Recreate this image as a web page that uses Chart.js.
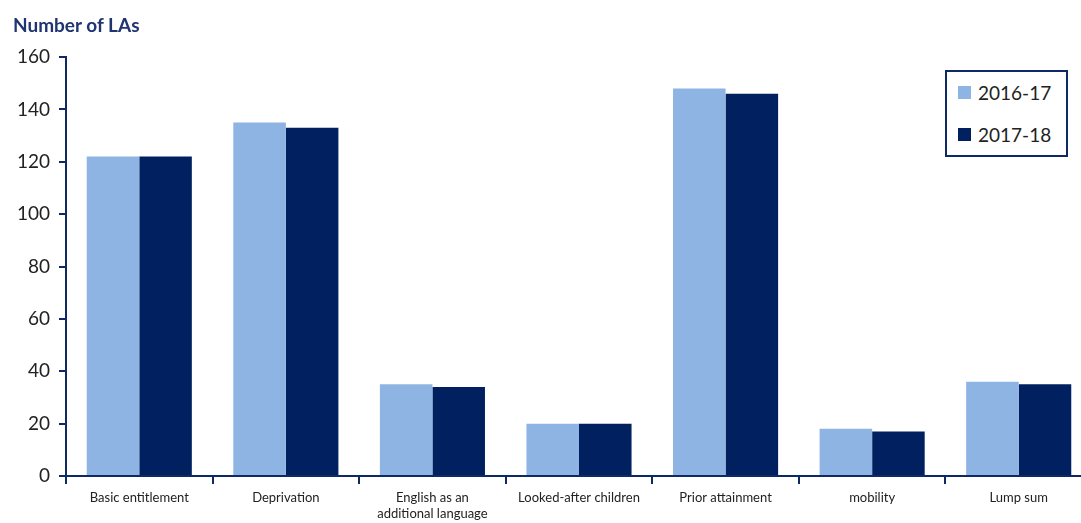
<!DOCTYPE html>
<html>
<head>
<meta charset="utf-8">
<script src="https://cdn.jsdelivr.net/npm/chart.js@4/dist/chart.umd.min.js"></script>
<style>
  html, body { margin: 0; padding: 0; background: #fff; overflow: hidden; }
  #wrap { position: relative; width: 1100px; height: 523px; }
  #title { position: absolute; left: 13px; top: 13px; font: bold 19px Lato, sans-serif; color: #1f3571; }
  #legend { position: absolute; left: 945px; top: 70px; width: 119px; height: 83px; border: 2px solid #0e2a66;
            font: 19px Lato, sans-serif; color: #222; background: #fff; }
  .item { position: absolute; left: 11px; display: flex; align-items: center; }
  .sw { width: 13px; height: 13px; margin-right: 7px; }
</style>
</head>
<body>
<div id="wrap">
  <canvas id="c" width="1100" height="523"></canvas>
  <div id="title">Number of LAs</div>
  <div id="legend"></div>
</div>
<script>
const categories = [
  "Basic entitlement",
  "Deprivation",
  ["English as an", "additional language"],
  "Looked-after children",
  "Prior attainment",
  "mobility",
  "Lump sum",
];
const seriesNames = ["2016-17", "2017-18"];
const values1617 = [122, 135, 35, 20, 148, 18, 36];
const values1718 = [122, 133, 34, 20, 146, 17, 35];
const yTicks = [0, 20, 40, 60, 80, 100, 120, 140, 160];
const colours = ["#8eb4e3", "#002060"];

const navy = "#0e2a66";

const legend = document.getElementById("legend");
seriesNames.forEach((name, i) => {
  const d = document.createElement("div");
  d.className = "item";
  d.style.top = (i === 0 ? 9 : 51) + "px";
  d.innerHTML = '<span class="sw" style="background:' + colours[i] + '"></span>' + name;
  legend.appendChild(d);
});

new Chart(document.getElementById("c").getContext("2d"), {
  type: "bar",
  data: {
    labels: categories,
    datasets: [
      { label: seriesNames[0], data: values1617, backgroundColor: colours[0] },
      { label: seriesNames[1], data: values1718, backgroundColor: colours[1] },
    ],
  },
  options: {
    responsive: false,
    animation: false,
    layout: { padding: { top: 57, right: 8, left: 4, bottom: 0 } },
    plugins: { legend: { display: false }, tooltip: { enabled: false } },
    datasets: { bar: { categoryPercentage: 0.717, barPercentage: 1 } },
    scales: {
      x: {
        grid: { offset: true, drawOnChartArea: false, color: navy, lineWidth: 2, tickLength: 8 },
        border: { color: navy, width: 2 },
        ticks: { color: "#222", font: { family: "Lato", size: 13 }, padding: 6, maxRotation: 0, autoSkip: false },
        afterFit: (s) => { s.height = 47; },
      },
      y: {
        min: 0,
        max: 160,
        afterBuildTicks: (s) => { s.ticks = yTicks.map((v) => ({ value: v })); },
        grid: { drawOnChartArea: false, color: navy, lineWidth: 2, tickLength: 7 },
        border: { color: navy, width: 2 },
        ticks: { color: "#222", font: { family: "Lato", size: 19 }, padding: 9 },
        afterFit: (s) => { s.width = 62; },
      },
    },
  },
});
</script>
</body>
</html>
